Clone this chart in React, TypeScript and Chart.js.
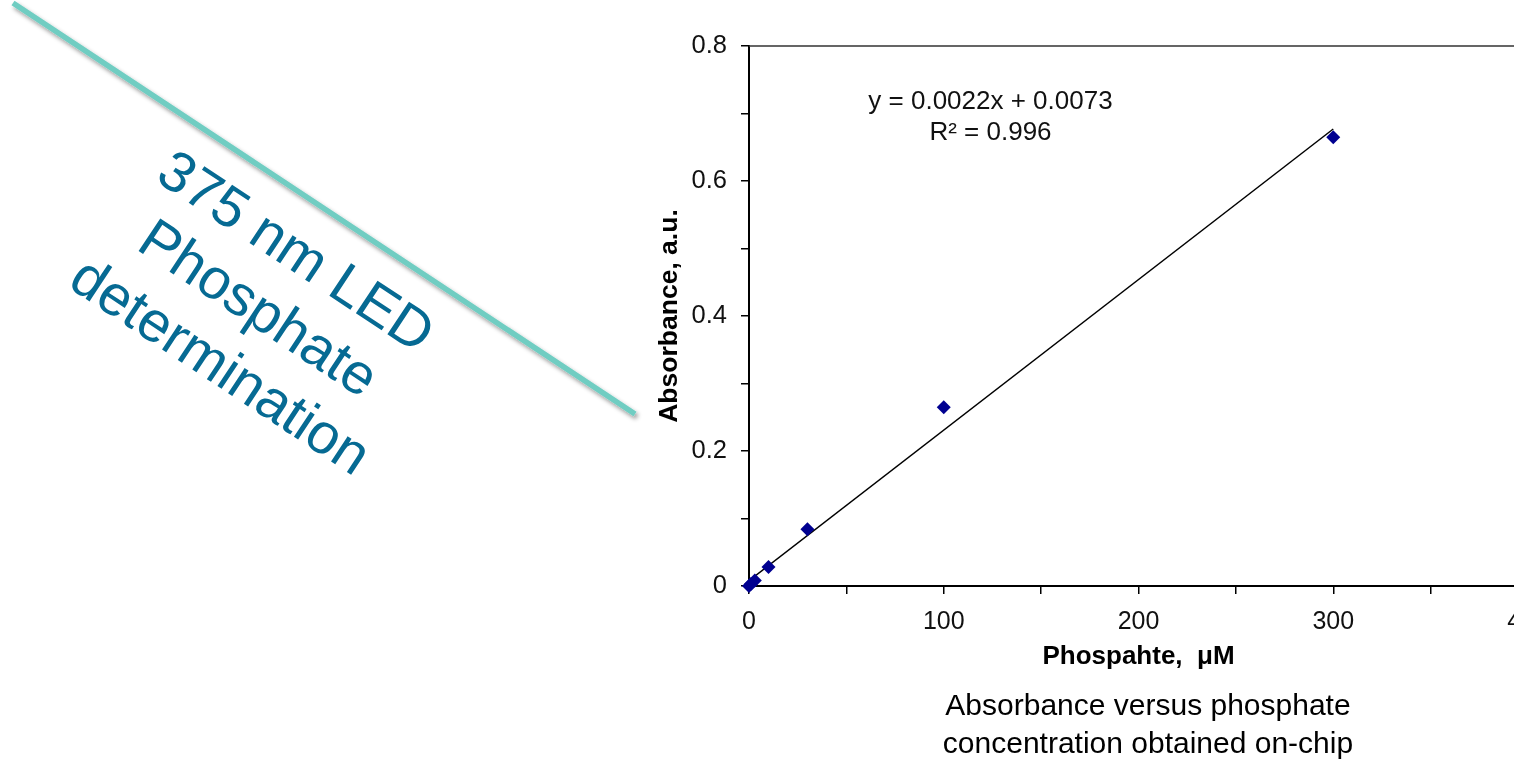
import React, { useEffect, useRef } from "react";
import { Chart, registerables } from "chart.js";

Chart.register(...registerables);

// ---- data ----
const concentrations = [0, 1, 3, 10, 30, 100, 300];
const absorbances = [0, 0.003, 0.008, 0.028, 0.084, 0.265, 0.665];
const trendX = [0, 300];
const trendY = [0.008, 0.677];
const xTickLabels = ["0", "100", "200", "300", "400"];
const yTickLabels = ["0", "0.2", "0.4", "0.6", "0.8"];
const equationLines = ["y = 0.0022x + 0.0073", "R\u00B2 = 0.996"];
const equationAnchor = { x: 124, y: [0.717, 0.671] };
const xTitle = "Phospahte,  \u03BCM";
const yTitle = "Absorbance, a.u.";
const captionLines = ["Absorbance versus phosphate", "concentration obtained on-chip"];
const sideTextLines = ["375 nm LED", "Phosphate", "determination"];

const FONT = "'Liberation Sans', Arial, Helvetica, sans-serif";
const CANVAS_W = 1600;
const CANVAS_H = 761;

const frameAndTextPlugin = {
  id: "frameAndText",
  afterDatasetsDraw(chart: any) {
    const { ctx, chartArea, scales } = chart;
    ctx.save();
    ctx.strokeStyle = "#333";
    ctx.lineWidth = 1.5;
    ctx.beginPath();
    ctx.moveTo(chartArea.left, chartArea.top);
    ctx.lineTo(chartArea.right, chartArea.top);
    ctx.lineTo(chartArea.right, chartArea.bottom);
    ctx.stroke();
    ctx.fillStyle = "#111";
    ctx.font = `26px ${FONT}`;
    ctx.textAlign = "center";
    ctx.textBaseline = "middle";
    equationLines.forEach((t, i) => {
      ctx.fillText(t, scales.x.getPixelForValue(equationAnchor.x), scales.y.getPixelForValue(equationAnchor.y[i]));
    });
    ctx.restore();
  },
};

export default function App() {
  const ref = useRef<HTMLCanvasElement | null>(null);

  useEffect(() => {
    if (!ref.current) return;
    const chart = new Chart(ref.current, {
      type: "scatter",
      data: {
        datasets: [
          {
            label: "trend",
            data: trendX.map((x, i) => ({ x, y: trendY[i] })),
            showLine: true,
            borderColor: "#000",
            borderWidth: 1.5,
            pointRadius: 0,
            order: 2,
          },
          {
            label: "data",
            data: concentrations.map((x, i) => ({ x, y: absorbances[i] })),
            pointStyle: "rectRot",
            pointRadius: 7,
            backgroundColor: "#000090",
            borderColor: "#000090",
            borderWidth: 0,
            clip: false,
            order: 1,
          },
        ],
      },
      options: {
        responsive: false,
        animation: false,
        layout: { padding: { left: 650, top: 46, right: 72, bottom: 89 } },
        plugins: { legend: { display: false }, tooltip: { enabled: false } },
        scales: {
          x: {
            type: "linear",
            min: 0,
            max: 400,
            afterFit: (s: any) => {
              s.height = 86;
            },
            ticks: {
              stepSize: 50,
              color: "#111",
              font: { family: FONT, size: 25 },
              padding: 13,
              maxRotation: 0,
              autoSkip: false,
              callback: (_v: any, i: number) => (i % 2 === 0 ? xTickLabels[i / 2] : ""),
            },
            grid: { drawOnChartArea: false, drawTicks: true, tickLength: 8, color: "#000", lineWidth: 1.5 },
            border: { display: true, color: "#000", width: 2 },
            title: {
              display: true,
              text: xTitle,
              color: "#000",
              font: { family: FONT, size: 26, weight: "bold" },
              padding: { top: 0, bottom: 0 },
            },
          },
          y: {
            type: "linear",
            min: 0,
            max: 0.8,
            afterFit: (s: any) => {
              s.width = 99;
            },
            ticks: {
              stepSize: 0.1,
              color: "#111",
              font: { family: FONT, size: 25.5 },
              padding: 14,
              autoSkip: false,
              callback: (_v: any, i: number) => (i % 2 === 0 ? yTickLabels[i / 2] : ""),
            },
            grid: { drawOnChartArea: false, drawTicks: true, tickLength: 8, color: "#000", lineWidth: 1.5 },
            border: { display: true, color: "#000", width: 2 },
            title: {
              display: true,
              text: yTitle,
              color: "#000",
              font: { family: FONT, size: 26.5, weight: "bold" },
              padding: { top: 4, bottom: 0 },
            },
          },
        },
      },
      plugins: [frameAndTextPlugin],
    });
    return () => chart.destroy();
  }, []);

  return (
    <div
      style={{
        position: "fixed",
        left: 0,
        top: 0,
        width: 1514,
        height: 761,
        overflow: "hidden",
        background: "#fff",
      }}
    >
      <svg
        width={700}
        height={480}
        style={{ position: "absolute", left: 0, top: 0, overflow: "visible" }}
      >
        <defs>
          <filter id="sh" x="-10%" y="-10%" width="120%" height="120%">
            <feDropShadow dx="2" dy="3" stdDeviation="2" floodColor="#000" floodOpacity="0.4" />
          </filter>
        </defs>
        <line x1={13} y1={3} x2={635} y2={414} stroke="#6fcdc2" strokeWidth={5.5} filter="url(#sh)" />
      </svg>
      <div
        style={{
          position: "absolute",
          left: 259 - 250,
          top: 308 - 102.6,
          width: 500,
          height: 205.2,
          textAlign: "center",
          fontFamily: FONT,
          fontSize: 57,
          lineHeight: "68.4px",
          color: "#066a93",
          transform: "rotate(33.5deg)",
          transformOrigin: "50% 50%",
          whiteSpace: "nowrap",
        }}
      >
        {sideTextLines.map((t) => (
          <div key={t}>{t}</div>
        ))}
      </div>
      <canvas
        ref={ref}
        width={CANVAS_W}
        height={CANVAS_H}
        style={{ position: "absolute", left: 0, top: 0, width: CANVAS_W, height: CANVAS_H }}
      />
      <div
        style={{
          position: "absolute",
          left: 1148 - 300,
          top: 686,
          width: 600,
          textAlign: "center",
          fontFamily: FONT,
          fontSize: 30,
          lineHeight: "38px",
          color: "#000",
        }}
      >
        {captionLines.map((t) => (
          <div key={t}>{t}</div>
        ))}
      </div>
    </div>
  );
}
